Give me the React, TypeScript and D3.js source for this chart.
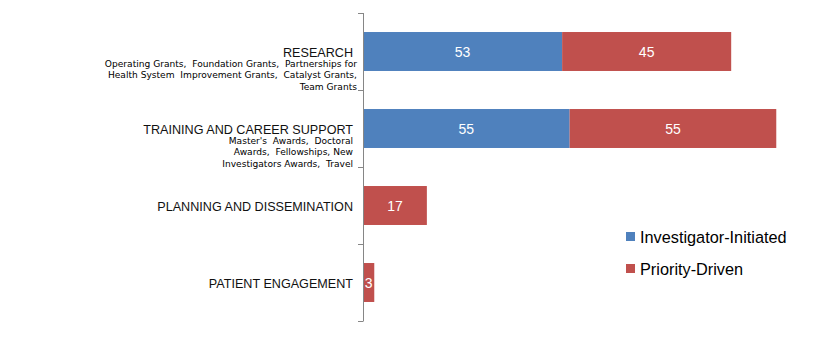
import React from 'react';
import * as d3 from 'd3';

// categories, top to bottom
const categories = ['RESEARCH', 'TRAINING AND CAREER SUPPORT', 'PLANNING AND DISSEMINATION', 'PATIENT ENGAGEMENT'];
// small descriptive lines under some category names
const subLabels = [
  ['Operating Grants,  Foundation Grants,  Partnerships for', 'Health System  Improvement Grants,  Catalyst Grants,', 'Team Grants'],
  ["Master's  Awards,  Doctoral", 'Awards,  Fellowships, New', 'Investigators Awards,  Travel'],
  [],
  [],
];
const seriesNames = ['Investigator-Initiated', 'Priority-Driven'];
const investigatorInitiated = [53, 55, 0, 0];
const priorityDriven = [45, 55, 17, 3];

const colors = ['#4F81BD', '#C0504D'];
const font = '"Liberation Sans", Arial, sans-serif';
const smallFont = '"DejaVu Sans", Verdana, sans-serif';

const W = 826;
const H = 361;
const axisX = 363;

export default function App() {
  const x = d3.scaleLinear().domain([0, 120]).range([axisX, axisX + 120 * 3.757]);
  const y = d3.scaleBand<string>().domain(categories).range([13, 321]).paddingInner(0.494).paddingOuter(0.247);

  const stacked = d3.stack<number>().keys(['0', '1'])
    .value((i, k) => (k === '0' ? investigatorInitiated[i] : priorityDriven[i]))(d3.range(categories.length));

  const tickYs = d3.range(categories.length + 1).map(i => 13 + i * y.step());

  return (
    <svg width={W} height={H} style={{ position: 'absolute', left: 0, top: 0, background: '#fff' }}>
      {/* bars */}
      {stacked.map((layer, si) => (
        <g key={si}>
          {layer.map((d, i) => {
            const w = x(d[1]) - x(d[0]);
            if (w <= 0) return null;
            const cy = (y(categories[i]) as number) + y.bandwidth() / 2;
            const val = si === 0 ? investigatorInitiated[i] : priorityDriven[i];
            return (
              <g key={i}>
                <rect x={x(d[0])} y={y(categories[i])} width={w} height={y.bandwidth()} fill={colors[si]} />
                <text x={x(d[0]) + w / 2} y={cy + 5} textAnchor="middle" fill="#fff" fontFamily={font} fontSize={14}>{val}</text>
              </g>
            );
          })}
        </g>
      ))}

      {/* axis */}
      <line x1={axisX + 0.5} x2={axisX + 0.5} y1={tickYs[0]} y2={tickYs[tickYs.length - 1]} stroke="#868686" />
      {tickYs.map((ty, i) => (
        <line key={i} x1={axisX - 5} x2={axisX + 0.5} y1={ty + 0.5} y2={ty + 0.5} stroke="#868686" />
      ))}

      {/* category labels */}
      {categories.map((c, i) => {
        const cy = (y(c) as number) + y.bandwidth() / 2;
        return (
          <g key={c}>
            <text x={353} y={cy + 5.5} textAnchor="end" fontFamily={font} fontSize={12.6} fill="#111">{c}</text>
            {subLabels[i].map((s, j) => (
              <text key={j} x={i === 0 ? 357 : 353} y={cy + 15 + j * 11.8} textAnchor="end" fontFamily={smallFont} fontSize={9.1} fill="#000" style={{ whiteSpace: 'pre' }}>{s}</text>
            ))}
          </g>
        );
      })}

      {/* legend */}
      {seriesNames.map((s, i) => (
        <g key={s} transform={`translate(626, ${232 + i * 32})`}>
          <rect width={9} height={9} fill={colors[i]} />
          <text x={14} y={10.5} fontFamily={font} fontSize={16.3} fill="#000">{s}</text>
        </g>
      ))}
    </svg>
  );
}
